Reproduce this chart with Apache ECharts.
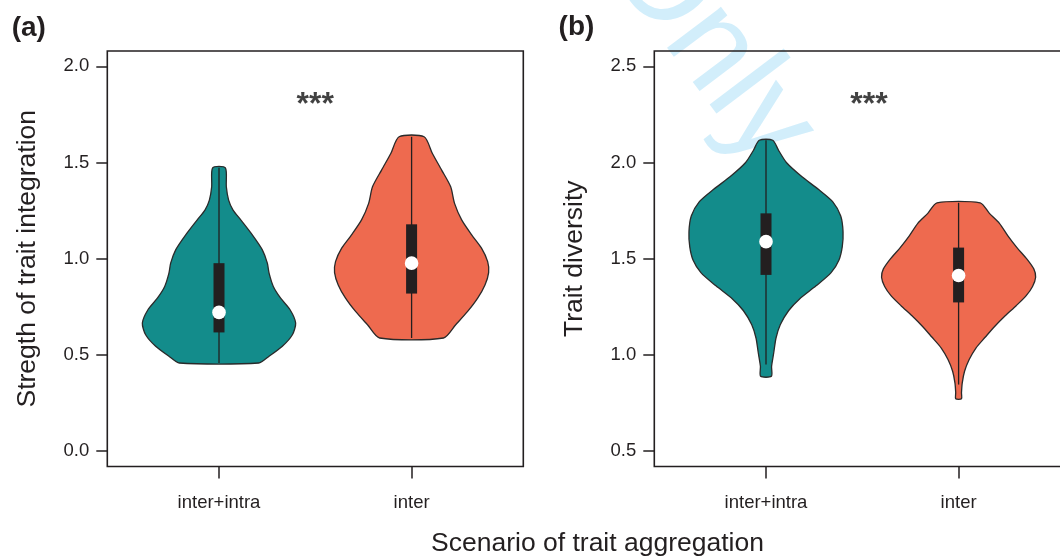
<!DOCTYPE html>
<html>
<head>
<meta charset="utf-8">
<script src="https://cdn.jsdelivr.net/npm/echarts@6/dist/echarts.min.js"></script>
<style>
html,body{margin:0;padding:0;background:#fff;}
#chart{width:1060px;height:558px;}
</style>
</head>
<body>
<div id="chart"></div>
<script>
// ---------- data ----------
const categories = ['inter+intra', 'inter'];
const yTicksA = [0, 0.5, 1, 1.5, 2];
const yTicksB = [0.5, 1, 1.5, 2, 2.5];
const yTitleA = 'Stregth of trait integration';
const yTitleB = 'Trait diversity';
const xTitle = 'Scenario of trait aggregation';
const panelLabels = ['(a)', '(b)'];

// violin outlines: [value, half-width in category units], top to bottom
const violinA1 = [[1.473,0.033],[1.374,0.038],[1.305,0.050],[1.253,0.073],[1.202,0.113],[1.124,0.173],[1.046,0.225],[0.977,0.251],[0.925,0.260],[0.856,0.282],[0.795,0.320],[0.735,0.369],[0.666,0.398],[0.605,0.381],[0.545,0.329],[0.493,0.260],[0.458,0.206]];
const violinA2 = [[1.634,0.065],[1.547,0.108],[1.461,0.156],[1.374,0.203],[1.288,0.223],[1.202,0.260],[1.124,0.312],[1.055,0.363],[0.985,0.395],[0.928,0.400],[0.864,0.381],[0.795,0.343],[0.726,0.291],[0.657,0.229],[0.588,0.166]];
const violinB1 = [[2.116,0.035],[2.064,0.065],[1.999,0.107],[1.926,0.187],[1.861,0.272],[1.797,0.346],[1.722,0.388],[1.641,0.400],[1.563,0.396],[1.494,0.379],[1.428,0.338],[1.359,0.260],[1.290,0.173],[1.231,0.118],[1.157,0.074],[1.088,0.052],[1.010,0.040],[0.941,0.029],[0.889,0.028]];
const violinB2 = [[1.791,0.112],[1.736,0.160],[1.684,0.212],[1.619,0.256],[1.558,0.303],[1.498,0.355],[1.446,0.391],[1.404,0.400],[1.356,0.384],[1.307,0.350],[1.256,0.299],[1.204,0.242],[1.148,0.187],[1.093,0.139],[1.036,0.090],[0.976,0.055],[0.915,0.031],[0.855,0.019],[0.803,0.015],[0.772,0.015]];

// box plot summaries: [lower hinge, upper hinge]
const boxesA = [[0.617, 0.977], [0.819, 1.179]];
const boxesB = [[1.416, 1.736], [1.273, 1.558]];
const mediansA = [0.721, 0.977];
const mediansB = [1.589, 1.413];
// whiskers: [low, high]
const whiskersA = [[0.458, 1.473], [0.588, 1.634]];
const whiskersB = [[0.950, 2.116], [0.846, 1.791]];

// significance annotation
const sigA = [1.5, 1.8];
const sigB = [1.535, 2.3];
const sigText = '***';

// ---------- styling ----------
const FONT = '"Liberation Sans", Arial, Helvetica, sans-serif';
const INK = '#231f20';
const fills = ['#138c8b', '#ee6a4f'];

const chart = echarts.init(document.getElementById('chart'), null, {renderer: 'canvas'});

function makeViolinSeries(gi, shapes, boxes, medians, whiskers) {
  return {
    type: 'custom',
    xAxisIndex: gi, yAxisIndex: gi,
    silent: true,
    clip: false,
    encode: {x: 0, y: 1},
    data: medians.map((m, i) => [i + 1, m]),
    renderItem: function (params, api) {
      const i = params.dataIndex;
      const cx = api.value(0);
      const shape = shapes[i];
      const left = shape.map(p => api.coord([cx - p[1], p[0]]));
      const right = shape.slice().reverse().map(p => api.coord([cx + p[1], p[0]]));
      const pts = left.concat(right);
      const bt = api.coord([cx, boxes[i][1]]);
      const bb = api.coord([cx, boxes[i][0]]);
      const wt = api.coord([cx, whiskers[i][1]]);
      const wb = api.coord([cx, whiskers[i][0]]);
      const md = api.coord([cx, api.value(1)]);
      const bw = 11;
      return {
        type: 'group',
        children: [
          {type: 'polygon', shape: {points: pts, smooth: 0.25},
           style: {fill: fills[i], stroke: '#2a2a2a', lineWidth: 1.3}},
          {type: 'line', shape: {x1: wt[0], y1: wt[1], x2: wb[0], y2: wb[1]},
           style: {stroke: INK, lineWidth: 1.3}},
          {type: 'rect', shape: {x: bt[0] - bw / 2, y: bt[1], width: bw, height: bb[1] - bt[1]},
           style: {fill: INK}},
          {type: 'circle', shape: {cx: md[0], cy: md[1], r: 6.8},
           style: {fill: '#ffffff'}}
        ]
      };
    }
  };
}

function sigSeries(gi, pos) {
  return {
    type: 'scatter', xAxisIndex: gi, yAxisIndex: gi, silent: true,
    data: [pos], symbolSize: 1, itemStyle: {color: 'rgba(0,0,0,0)'},
    label: {show: true, position: 'inside', formatter: sigText,
            fontSize: 32, fontWeight: 'bold', color: '#111', fontFamily: FONT}
  };
}

function xAxisCfg(gi) {
  return {
    gridIndex: gi, type: 'value', min: 0.42, max: 2.58,
    axisLine: {show: false, onZero: false},
    splitLine: {show: false},
    axisTick: {show: true, length: 12, customValues: [1, 2], lineStyle: {color: INK, width: 1.5}},
    axisLabel: {customValues: [1, 2], formatter: v => categories[Math.round(v) - 1],
                margin: 27, fontSize: 18.5, color: INK, fontFamily: FONT}
  };
}

function yAxisCfg(gi, min, max, ticks, title) {
  return {
    gridIndex: gi, type: 'value', min: min, max: max,
    name: title, nameLocation: 'middle', nameRotate: 90, nameGap: 66,
    nameTextStyle: {fontSize: 26.5, color: INK, fontFamily: FONT},
    axisLine: {show: false, onZero: false},
    splitLine: {show: false},
    axisTick: {show: true, length: 11, customValues: ticks, lineStyle: {color: INK, width: 1.5}},
    axisLabel: {customValues: ticks, formatter: v => v.toFixed(1),
                margin: 18, fontSize: 18.5, color: INK, fontFamily: FONT}
  };
}

const gridBase = {top: 51, width: 416, height: 415.5, show: true,
  borderColor: INK, borderWidth: 1.6, backgroundColor: 'transparent',
  containLabel: false, outerBoundsMode: 'none'};

const option = {
  animation: false,
  backgroundColor: '#ffffff',
  grid: [
    Object.assign({left: 107.3}, gridBase),
    Object.assign({left: 654.3}, gridBase)
  ],
  xAxis: [xAxisCfg(0), xAxisCfg(1)],
  yAxis: [
    yAxisCfg(0, -0.08, 2.08, yTicksA, yTitleA),
    yAxisCfg(1, 0.42, 2.58, yTicksB, yTitleB)
  ],
  graphic: [
    {type: 'text', z: -10, x: 630, y: -60, rotation: -53 * Math.PI / 180, silent: true,
     style: {text: 'Only', font: '128px ' + FONT, fill: '#d2eefb', align: 'left', verticalAlign: 'middle'}},
    {type: 'text', x: 28.8, y: 28, silent: true,
     style: {text: panelLabels[0], font: 'bold 28px ' + FONT, fill: INK, align: 'center', verticalAlign: 'middle'}},
    {type: 'text', x: 576.5, y: 27, silent: true,
     style: {text: panelLabels[1], font: 'bold 28px ' + FONT, fill: INK, align: 'center', verticalAlign: 'middle'}},
    {type: 'text', x: 597.5, y: 544, silent: true,
     style: {text: xTitle, font: '26.5px ' + FONT, fill: INK, align: 'center', verticalAlign: 'middle'}}
  ],
  series: [
    makeViolinSeries(0, [violinA1, violinA2], boxesA, mediansA, whiskersA),
    makeViolinSeries(1, [violinB1, violinB2], boxesB, mediansB, whiskersB),
    sigSeries(0, sigA),
    sigSeries(1, sigB)
  ]
};
chart.setOption(option);
</script>
</body>
</html>
